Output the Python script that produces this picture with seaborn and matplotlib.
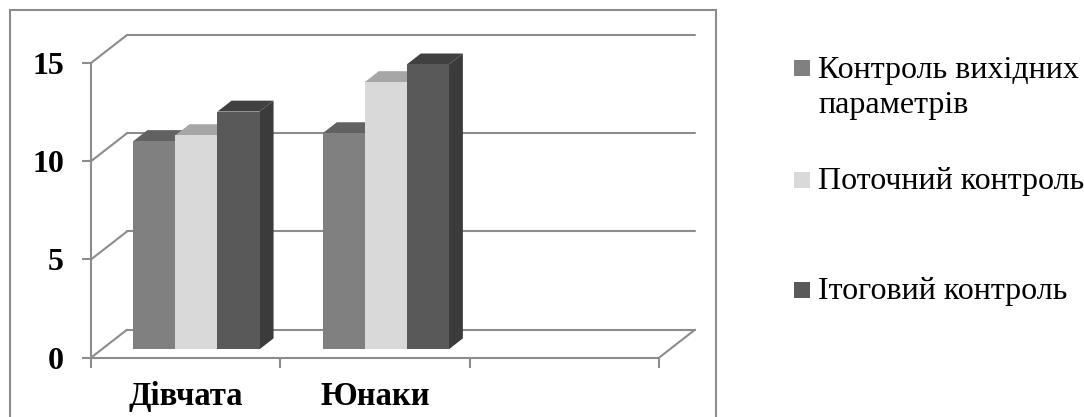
import numpy as np
import pandas as pd
import matplotlib
matplotlib.use('Agg')
import matplotlib.pyplot as plt
import seaborn as sns
from matplotlib.patches import Polygon, Rectangle
from matplotlib.transforms import Affine2D

# ---- data ----
groups = ['Дівчата', 'Юнаки']
series = ['Контроль вихідних параметрів', 'Поточний контроль', 'Ітоговий контроль']
legend_labels = ['Контроль вихідних\nпараметрів', 'Поточний контроль', 'Ітоговий контроль']
values_divchata = [10.6, 10.9, 12.1]
values_yunaky = [11.0, 13.6, 14.5]
y_ticks = [0, 5, 10, 15]

# ---- style ----
front_colors = ['#808080', '#d9d9d9', '#595959']
top_colors = ['#626262', '#a6a6a6', '#404040']
side_colors = ['#4a4a4a', '#8c8c8c', '#3b3b3b']
grid_color = '#8c8c8c'

df = pd.DataFrame({
    'group': np.repeat(groups, len(series)),
    'series': series * len(groups),
    'value': values_divchata + values_yunaky,
})

sns.set_theme(style='white')
plt.rcParams['font.family'] = ['Liberation Serif', 'DejaVu Serif']

W, H = 1084, 417
fig = plt.figure(figsize=(W / 100, H / 100), dpi=100)

ax_left, ax_right, ax_bottom_px, ax_top_px = 91, 695, 357.7, 35
depth_px_x, depth_px_y = 36, 28
ax = fig.add_axes([ax_left / W, (H - ax_bottom_px) / H,
                   (ax_right - ax_left) / W, (ax_bottom_px - ax_top_px) / H])
ax.patch.set_alpha(0)

sns.barplot(data=df, x='group', y='value', hue='series', order=groups,
            hue_order=series, palette=front_colors, width=0.666, saturation=1,
            edgecolor='none', linewidth=0, legend=False, ax=ax)

n_cat = 3
px_per_x = (ax_right - ax_left - depth_px_x) / n_cat
px_per_y = (ax_bottom_px - ax_top_px - depth_px_y) / 15
DX = depth_px_x / px_per_x
DY = depth_px_y / px_per_y
ax.set_xlim(-0.5, n_cat - 0.5 + DX)
ax.set_ylim(0, 15 + DY)

F0, FD = 0.30, 0.39
shift = Affine2D().translate(F0 * DX, F0 * DY) + ax.transData
ddx, ddy = FD * DX, FD * DY

for i, cont in enumerate(ax.containers):
    for bar in cont:
        x0, w, h = bar.get_x(), bar.get_width(), bar.get_height()
        bar.set_transform(shift)
        bar.set_zorder(3 + i * 0.1 + 0.05)
        top = Polygon([(x0, h), (x0 + w, h), (x0 + w + ddx, h + ddy), (x0 + ddx, h + ddy)],
                      closed=True, facecolor=top_colors[i], edgecolor='none',
                      transform=shift, zorder=3 + i * 0.1, clip_on=False)
        side = Polygon([(x0 + w, 0), (x0 + w + ddx, ddy), (x0 + w + ddx, h + ddy), (x0 + w, h)],
                       closed=True, facecolor=side_colors[i], edgecolor='none',
                       transform=shift, zorder=3 + i * 0.1, clip_on=False)
        ax.add_patch(top)
        ax.add_patch(side)

# walls / grid
lw = 1.5
xl, xr = -0.5, n_cat - 0.5
for v in y_ticks:
    ax.plot([xl, xl + DX], [v, v + DY], color=grid_color, lw=lw, clip_on=False, zorder=1)
    ax.plot([xl + DX, xr + DX], [v + DY, v + DY], color=grid_color, lw=lw, clip_on=False, zorder=1)
ax.plot([xl, xl], [0, 15], color=grid_color, lw=lw, clip_on=False, zorder=1)
ax.plot([xl, xr], [0, 0], color=grid_color, lw=lw, clip_on=False, zorder=1)
ax.plot([xr, xr + DX], [0, DY], color=grid_color, lw=lw, clip_on=False, zorder=1)

for s in ax.spines.values():
    s.set_visible(False)
ax.grid(False)
ax.set_xlabel('')
ax.set_ylabel('')
ax.set_yticks(y_ticks)
ax.set_yticklabels([str(t) for t in y_ticks])
ax.tick_params(axis='y', length=6.5, width=lw, color=grid_color, pad=13,
               labelsize=23, labelcolor='black', left=True)
ax.set_xticks(range(len(groups)))
ax.set_xticklabels(groups)
ax.set_xticks([xl + k for k in range(n_cat + 1)], minor=True)
ax.tick_params(axis='x', which='minor', length=7.2, width=lw, color=grid_color,
               bottom=True, direction='out')
ax.tick_params(axis='x', which='major', length=0, pad=17, labelsize=23.5,
               labelcolor='black')
for lbl in ax.get_yticklabels() + ax.get_xticklabels():
    lbl.set_fontweight('bold')

# outer frame
fig.add_artist(Rectangle((10 / W, -0.1), (716 - 10) / W, (H - 10) / H + 0.1,
                         transform=fig.transFigure, fill=False,
                         edgecolor=grid_color, lw=1.5))

# legend (manual, uneven spacing as in the reference)
sq = 16
centers = [68, 179.5, 289.5]
for i, (lab, cy) in enumerate(zip(legend_labels, centers)):
    fig.add_artist(Rectangle((794 / W, (H - cy - sq / 2) / H), sq / W, sq / H,
                             transform=fig.transFigure, facecolor=front_colors[i],
                             edgecolor='none'))
    fig.text(818 / W, (H - (cy + 10)) / H, lab.split('\n')[0], fontsize=23,
             va='baseline', ha='left', color='black')
    if '\n' in lab:
        fig.text(818 / W, (H - (cy + 10 + 35)) / H, lab.split('\n')[1], fontsize=23,
                 va='baseline', ha='left', color='black')

fig.savefig('out.png', dpi=100)
